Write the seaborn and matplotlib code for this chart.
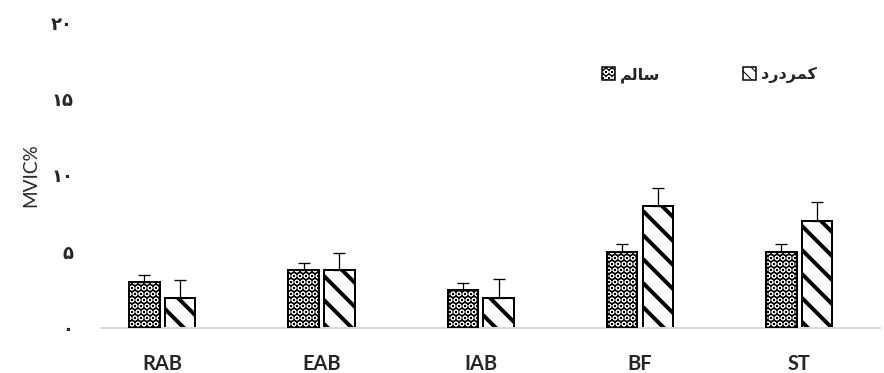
import pandas as pd
import seaborn as sns
import matplotlib.pyplot as plt
from matplotlib.patches import Patch, Rectangle

# values (MVIC%)
muscles = ['RAB', 'EAB', 'IAB', 'BF', 'ST']
healthy = [3.0, 3.8, 2.5, 5.0, 5.0]
healthy_sd = [0.5, 0.45, 0.45, 0.5, 0.48]
patient = [1.95, 3.8, 2.0, 8.0, 7.0]
patient_sd = [1.2, 1.15, 1.2, 1.2, 1.27]

# group names (logical order) and their pre-shaped visual forms for drawing
groups = ['سالم', 'کمردرد']
group_labels = ['\ufee2\ufedf\ufe8e\ufeb3', '\ufea9\ufead\ufea9\ufeae\ufee4\ufb90']
y_ticks = [0, 5, 10, 15, 20]
y_tick_labels = ['۰', '۵', '۱۰', '۱۵', '۲۰']

df = pd.DataFrame({
    'muscle': muscles * 2,
    'value': healthy + patient,
    'group': [groups[0]] * len(muscles) + [groups[1]] * len(muscles),
})

sns.set_style('white')
plt.rcParams['font.family'] = ['Lato', 'DejaVu Sans']

fig = plt.figure(figsize=(884 / 72, 373 / 72), dpi=72)
ax = fig.add_axes([101 / 884, 1 - 328 / 373, 779 / 884, 305 / 373])

sns.barplot(data=df, x='muscle', y='value', hue='group', hue_order=groups,
            palette={groups[0]: 'black', groups[1]: 'white'},
            width=0.45, gap=0.15, errorbar=None, legend=False, ax=ax)

def set_hlw(p, lw):
    if hasattr(p, 'set_hatch_linewidth'):
        p.set_hatch_linewidth(lw)

# healthy: black with white circles, black outline
for p in ax.containers[0]:
    p.set_facecolor('black')
    p.set_edgecolor('white')
    p.set_hatch('OO')
    p.set_linewidth(0)
    set_hlw(p, 0.7)
    ax.add_patch(Rectangle(p.get_xy(), p.get_width(), p.get_height(),
                           fill=False, edgecolor='black', lw=2, zorder=3))
# patient: white with thick black diagonal stripes
for p in ax.containers[1]:
    p.set_facecolor('white')
    p.set_edgecolor('black')
    p.set_hatch('\\')
    p.set_linewidth(2)
    set_hlw(p, 4.0)

# upward-only error bars
for cont, sd in zip(ax.containers[:2], [healthy_sd, patient_sd]):
    xs = [p.get_x() + p.get_width() / 2 for p in cont]
    ys = [p.get_height() for p in cont]
    ax.errorbar(xs, ys, yerr=[[0] * len(sd), sd], fmt='none', ecolor='black',
                elinewidth=1.3, capsize=6, capthick=1.3, zorder=1)

ax.set_ylim(0, 20)
ax.set_xlim(-0.385, 4.507)
ax.set_yticks(y_ticks)
ax.set_yticklabels(y_tick_labels, fontsize=18, fontweight='bold', family=['DejaVu Sans'])
ax.set_xticks(range(len(muscles)))
ax.set_xticklabels(muscles, fontsize=20, fontweight='bold')
ax.tick_params(axis='y', length=0, pad=28)
ax.tick_params(axis='x', length=0, pad=26)
ax.set_xlabel('')
ax.set_ylabel('MVIC%', fontsize=19, labelpad=12)
for s in ['top', 'right', 'left']:
    ax.spines[s].set_visible(False)
ax.spines['bottom'].set_color('#d9d9d9')
ax.spines['bottom'].set_linewidth(2)

h0a = Patch(facecolor='black', edgecolor='white', hatch='OO', lw=0)
h0b = Patch(fill=False, edgecolor='black', lw=1.5)
set_hlw(h0a, 0.7)
h1 = Patch(facecolor='white', edgecolor='black', hatch='\\\\', lw=1.5)
set_hlw(h1, 3.0)
fig.legend([(h0a, h0b), h1], group_labels, loc='center left',
           bbox_to_anchor=(602 / 884, 1 - 75 / 373), ncol=2, frameon=False,
           prop={'family': ['DejaVu Sans'], 'size': 16, 'weight': 'bold'},
           handlelength=0.8, handleheight=0.8, handletextpad=0.3,
           columnspacing=5.2, borderpad=0, borderaxespad=0)

fig.savefig('out.png', dpi=72)
